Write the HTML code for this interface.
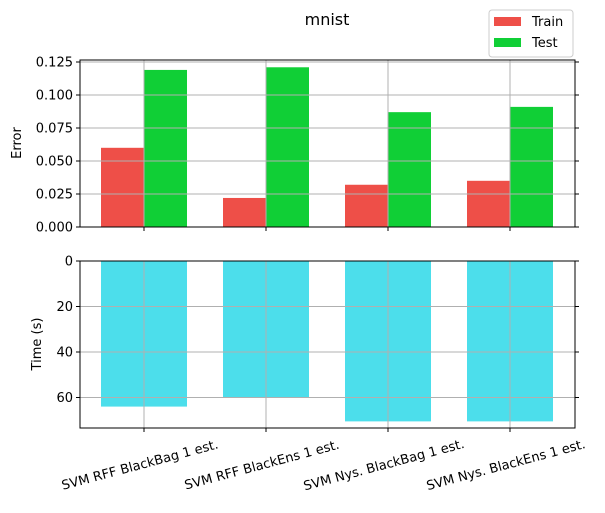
<!DOCTYPE html>
<html><head><meta charset="utf-8"><style>
body{margin:0;background:#fff;}
svg text{font-family:"DejaVu Sans","Liberation Sans",sans-serif;fill:#000;}
</style></head><body>
<svg id="c" width="605" height="508" viewBox="0 0 605 508" xmlns="http://www.w3.org/2000/svg">
<text x="327" y="25" font-size="16" text-anchor="middle">mnist</text>
</svg>
<script>
const categories=["SVM RFF BlackBag 1 est.","SVM RFF BlackEns 1 est.","SVM Nys. BlackBag 1 est.","SVM Nys. BlackEns 1 est."];
const trainErr=[0.060,0.022,0.032,0.035];
const testErr=[0.119,0.121,0.087,0.091];
const timeVals=[64,60,70.5,70.5];
const errTicks=["0.000","0.025","0.050","0.075","0.100","0.125"];
const timeTicks=[0,20,40,60];
const svg=document.getElementById('c');
const NS="http://www.w3.org/2000/svg";
function mk(t,a,p){const e=document.createElementNS(NS,t);for(const k in a)e.setAttribute(k,a[k]);(p||svg).appendChild(e);return e;}
const X0=80,X1=575;
const xc=i=>144+i*122;
const yTop=v=>227-v*1320;
const yBot=v=>261+v*2.275;
trainErr.forEach((v,i)=>{const r=mk('rect',{x:xc(i)-43,y:yTop(v),width:43,height:227-yTop(v),fill:'#ee4f48'});

});
testErr.forEach((v,i)=>{const r=mk('rect',{x:xc(i),y:yTop(v),width:43,height:227-yTop(v),fill:'#10cf36'});

});
timeVals.forEach((v,i)=>{const r=mk('rect',{x:xc(i)-43,y:261,width:86,height:yBot(v)-261,fill:'#4cdeeb'});

});
errTicks.forEach(t=>{const y=yTop(+t);
mk('line',{x1:X0,x2:X1,y1:y,y2:y,stroke:'#b0b0b0','stroke-width':1});
mk('line',{x1:X0-4,x2:X0,y1:y,y2:y,stroke:'#000'});mk('line',{x1:X1,x2:X1+4,y1:y,y2:y,stroke:'#000'});
const tx=mk('text',{x:X0-7,y:y+4.5,'font-size':13,'text-anchor':'end'});tx.textContent=t;

});
timeTicks.forEach(t=>{const y=yBot(t);
mk('line',{x1:X0,x2:X1,y1:y,y2:y,stroke:'#b0b0b0','stroke-width':1});
mk('line',{x1:X0-4,x2:X0,y1:y,y2:y,stroke:'#000'});mk('line',{x1:X1,x2:X1+4,y1:y,y2:y,stroke:'#000'});
const tx=mk('text',{x:X0-7,y:y+4.5,'font-size':13,'text-anchor':'end'});tx.textContent=t;

});
categories.forEach((c,i)=>{const x=xc(i);
mk('line',{x1:x,x2:x,y1:60,y2:227,stroke:'#b0b0b0'});mk('line',{x1:x,x2:x,y1:261,y2:428,stroke:'#b0b0b0'});
mk('line',{x1:x,x2:x,y1:227,y2:231,stroke:'#000'});mk('line',{x1:x,x2:x,y1:428,y2:432,stroke:'#000'});
const cx=x-3,cy=469;
const tx=mk('text',{x:cx,y:cy,'font-size':13,'text-anchor':'middle',transform:`rotate(-15 ${cx} ${cy})`});tx.textContent=c;

});
mk('rect',{x:X0,y:60,width:X1-X0,height:167,fill:'none',stroke:'#000'});
mk('rect',{x:X0,y:261,width:X1-X0,height:167,fill:'none',stroke:'#000'});
let yl=mk('text',{x:21,y:143,'font-size':13,'text-anchor':'middle',transform:'rotate(-90 21 143)'});yl.textContent='Error';


yl=mk('text',{x:41,y:344,'font-size':13,'text-anchor':'middle',transform:'rotate(-90 41 344)'});yl.textContent='Time (s)';


const lg=mk('g',{});


mk('rect',{x:489,y:10,width:84,height:47,rx:3,fill:'#fff',stroke:'#ccc'},lg);
mk('rect',{x:494,y:17,width:27,height:9,fill:'#ee4f48'},lg);
mk('rect',{x:494,y:38,width:27,height:9,fill:'#10cf36'},lg);
let t=mk('text',{x:532,y:26,'font-size':13},lg);t.textContent='Train';
t=mk('text',{x:532,y:47,'font-size':13},lg);t.textContent='Test';
</script>
</body></html>
